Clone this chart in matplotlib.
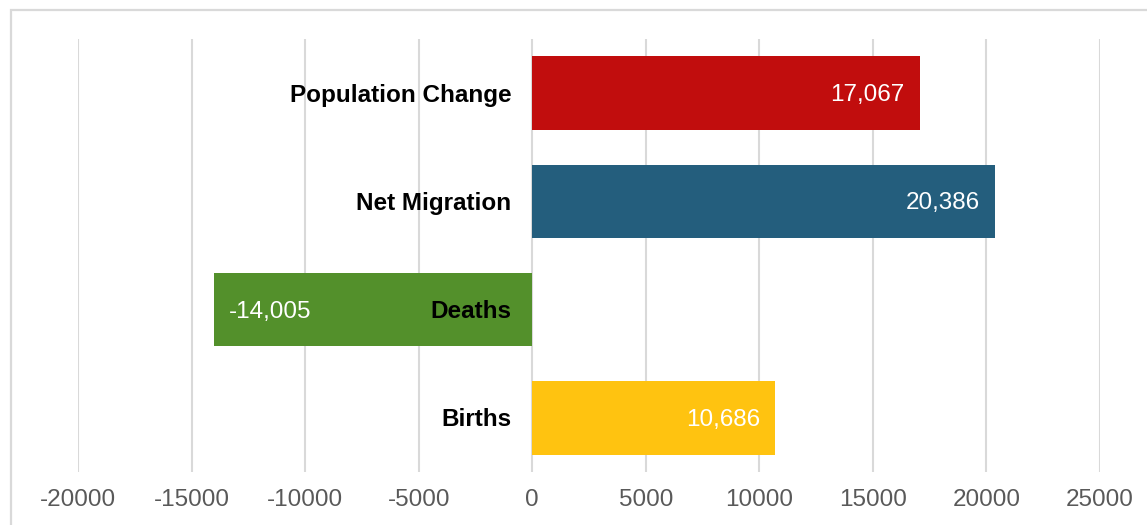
import matplotlib
matplotlib.use("Agg")
import matplotlib.pyplot as plt
from matplotlib.patches import Rectangle

# Components of population change
categories = ["Population Change", "Net Migration", "Deaths", "Births"]
values = [17067, 20386, -14005, 10686]
colors = ["#C10D0D", "#245E7D", "#53902B", "#FFC310"]
xticks = [-20000, -15000, -10000, -5000, 0, 5000, 10000, 15000, 20000, 25000]

plt.rcParams["font.family"] = ["Liberation Sans", "DejaVu Sans"]
FS = 17.5

W, H = 1147, 525
fig = plt.figure(figsize=(W / 100, H / 100), dpi=100)
fig.patch.set_facecolor("white")

# outer chart border
fig.add_artist(Rectangle((10.5 / W, -0.1), 2, 1 - 9.5 / H + 0.1,
                         transform=fig.transFigure, fill=False,
                         edgecolor="#D9D9D9", linewidth=1.6))

ax = fig.add_axes([78 / W, 1 - 472 / H, (1100 - 78) / W, (472 - 39) / H])
ypos = list(range(len(categories)))[::-1]
ax.barh(ypos, values, height=0.68, color=colors, zorder=2)

ax.set_xlim(-20000, 25000)
ax.set_ylim(-0.5, 3.5)
ax.set_xticks(xticks)
ax.set_xticklabels([str(t) for t in xticks])
ax.tick_params(axis="x", length=0, pad=12.5, labelsize=FS, labelcolor="#595959")
ax.set_yticks([])
for s in ax.spines.values():
    s.set_visible(False)
ax.grid(axis="x", color="#D9D9D9", linewidth=1.5, zorder=0)
ax.set_axisbelow(True)

px = 45000 / (1100 - 78)  # data units per pixel
dy = 0.018                # small downward nudge for optical centring
for y, cat, v in zip(ypos, categories, values):
    ax.text(-21 * px, y - dy, cat, ha="right", va="center", fontsize=FS,
            fontweight="bold", color="black", zorder=3)
    label = f"{v:,}"
    if v >= 0:
        ax.text(v - 15 * px, y - dy, label, ha="right", va="center",
                fontsize=FS, color="white", zorder=3)
    else:
        ax.text(v + 15 * px, y - dy, label, ha="left", va="center",
                fontsize=FS, color="white", zorder=3)

fig.savefig("out.png", dpi=100)
